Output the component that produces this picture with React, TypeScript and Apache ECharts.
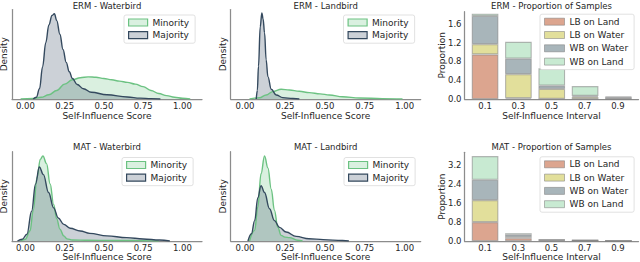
import React, { useEffect, useRef } from "react";
import * as echarts from "echarts";

// ---------- data ----------
const scoreTicks = [0, 0.25, 0.5, 0.75, 1.0];
const intervals = ["0.1", "0.3", "0.5", "0.7", "0.9"];
const intervalPos = [0, 1, 2, 3, 4];
const groups = ["LB on Land", "LB on Water", "WB on Water", "WB on Land"];
const ermPropTicks = [0, 0.4, 0.8, 1.2, 1.6];
const matPropTicks = [0, 0.8, 1.6, 2.4, 3.2];

// density curves (normalised so the tallest peak of a panel is ~1)
const ermWaterMinority: [number, number][] = [
  [-0.03, 0], [0.05, 0.005], [0.1, 0.02], [0.15, 0.05], [0.2, 0.1], [0.25, 0.175],
  [0.3, 0.225], [0.35, 0.25], [0.4, 0.26], [0.45, 0.255], [0.5, 0.24], [0.55, 0.225],
  [0.6, 0.21], [0.65, 0.195], [0.7, 0.175], [0.75, 0.145], [0.8, 0.1], [0.85, 0.065],
  [0.9, 0.04], [0.95, 0.02], [1.0, 0.008], [1.05, 0],
];
const ermWaterMajority: [number, number][] = [
  [0.05, 0], [0.07, 0.02], [0.09, 0.12], [0.11, 0.38], [0.13, 0.66], [0.15, 0.87],
  [0.17, 0.98], [0.185, 1.0], [0.2, 0.92], [0.22, 0.76], [0.24, 0.58], [0.26, 0.43],
  [0.28, 0.32], [0.3, 0.24], [0.33, 0.17], [0.37, 0.12], [0.42, 0.08], [0.52, 0.05],
  [0.65, 0.023], [0.73, 0.01], [0.8, 0.004], [0.86, 0],
];
const ermLandMinority: [number, number][] = [
  [0.028, 0], [0.09, 0.015], [0.132, 0.047], [0.174, 0.086], [0.226, 0.113], [0.278, 0.105],
  [0.34, 0.09], [0.403, 0.074], [0.47, 0.06], [0.528, 0.047], [0.611, 0.027], [0.716, 0.012],
  [0.86, 0.004], [0.986, 0],
];
const ermLandMajority: [number, number][] = [
  [0.07, 0], [0.077, 0.1], [0.084, 0.38], [0.095, 0.84], [0.105, 1.0], [0.113, 0.93],
  [0.122, 0.77], [0.132, 0.455], [0.143, 0.26], [0.164, 0.113], [0.195, 0.047],
  [0.236, 0.016], [0.3, 0.005], [0.34, 0],
];
const matWaterMinority: [number, number][] = [
  [-0.03, 0], [0.0, 0.02], [0.03, 0.12], [0.05, 0.36], [0.075, 0.75], [0.095, 0.96],
  [0.112, 1.0], [0.135, 0.91], [0.158, 0.67], [0.18, 0.43], [0.2, 0.26], [0.22, 0.14],
  [0.245, 0.06], [0.265, 0.025], [0.3, 0.012], [0.4, 0.008], [0.55, 0.006], [0.7, 0.005],
  [0.8, 0.002], [0.85, 0],
];
const matWaterMajority: [number, number][] = [
  [-0.05, 0], [-0.02, 0.02], [0.01, 0.08], [0.04, 0.35], [0.065, 0.67], [0.089, 0.87],
  [0.115, 0.78], [0.148, 0.57], [0.18, 0.39], [0.21, 0.27], [0.245, 0.195], [0.285, 0.15],
  [0.35, 0.118], [0.41, 0.09], [0.52, 0.06], [0.645, 0.04], [0.75, 0.024], [0.855, 0.012],
  [0.92, 0],
];
const matLandMinority: [number, number][] = [
  [0.028, 0], [0.06, 0.125], [0.08, 0.4], [0.1, 0.79], [0.122, 1.0], [0.143, 0.86],
  [0.164, 0.61], [0.184, 0.36], [0.205, 0.16], [0.226, 0.066], [0.25, 0.045], [0.278, 0.04],
  [0.33, 0.008], [0.36, 0],
];
const matLandMajority: [number, number][] = [
  [0.018, 0], [0.04, 0.086], [0.06, 0.24], [0.08, 0.51], [0.1, 0.65], [0.122, 0.57],
  [0.153, 0.38], [0.184, 0.24], [0.216, 0.16], [0.257, 0.105], [0.32, 0.054], [0.4, 0.027],
  [0.49, 0.016], [0.61, 0.005], [0.65, 0],
];

// proportion of samples (stacked)
const ermLBLand = [0.95, 0.02, 0.005, 0.005, 0.002];
const ermLBWater = [0.22, 0.51, 0.21, 0.04, 0.01];
const ermWBWater = [0.6, 0.33, 0.07, 0.02, 0.03];
const ermWBLand = [0.05, 0.36, 0.37, 0.21, 0.01];
const matLBLand = [0.8, 0.12, 0.02, 0.01, 0.003];
const matLBWater = [0.93, 0.05, 0.01, 0.01, 0.002];
const matWBWater = [0.86, 0.1, 0.03, 0.01, 0.003];
const matWBLand = [1.0, 0.06, 0.01, 0.01, 0.002];

// ---------- styles ----------
const FONT = "DejaVu Sans";
const TXT = "#262626";
const SPINE = "#8c8c8c";
const GREEN = "#6cc282";
const GREEN_FILL = "rgba(108,194,130,0.25)";
const DARK = "#34495e";
const DARK_FILL = "rgba(52,73,94,0.25)";
const BAR_COLORS = ["#dca58f", "#e2df9b", "#a8b5ba", "#c8ead2"];
const BAR_EDGE = "rgba(128,128,128,0.55)";

export default function App() {
  const ref = useRef<HTMLDivElement>(null);
  useEffect(() => {
    document.body.style.margin = "0";
    if (!ref.current) return;
    const chart = echarts.init(ref.current, null, { renderer: "svg" });

    const grids = [
      { left: 12, top: 9.5, width: 190, height: 89.5 },
      { left: 230.7, top: 9.5, width: 190, height: 89.5 },
      { left: 464.5, top: 11.7, width: 174, height: 87.3 },
      { left: 12, top: 151.7, width: 190, height: 89.3 },
      { left: 230.7, top: 151.7, width: 190, height: 89.3 },
      { left: 464.5, top: 152.3, width: 174, height: 88.7 },
      // bar-placement grids (hidden category axes) overlaid on the two proportion panels
      { left: 468.4, top: 11.7, width: 166.7, height: 87.3 },
      { left: 468.4, top: 152.3, width: 166.7, height: 88.7 },
    ].map((g) => ({ ...g, outerBoundsMode: "none", containLabel: false }));

    const axisLine = { show: true, onZero: false, lineStyle: { color: SPINE, width: 1.25 } };
    const labelStyle = { fontFamily: FONT, fontSize: 8.5, color: TXT, lineHeight: 9 };
    const nameStyle = { fontFamily: FONT, fontSize: 9, color: TXT, lineHeight: 9 };

    const densityX = (gi: number, min: number, max: number, gap: number) => ({
      type: "value",
      gridIndex: gi,
      min,
      max,
      axisLine,
      axisTick: { show: false },
      splitLine: { show: false },
      axisLabel: {
        ...labelStyle,
        margin: 2.5,
        customValues: scoreTicks,
        formatter: (v: number) => v.toFixed(2),
      },
      name: "Self-Influence Score",
      nameLocation: "middle",
      nameGap: gap,
      nameMoveOverlap: false,
      nameTextStyle: nameStyle,
    });
    const densityY = (gi: number, max: number) => ({
      type: "value",
      gridIndex: gi,
      min: 0,
      max,
      axisLine,
      axisTick: { show: false },
      splitLine: { show: false },
      axisLabel: { show: false },
      name: "Density",
      nameLocation: "middle",
      nameGap: 3.5,
      nameMoveOverlap: false,
      nameTextStyle: nameStyle,
    });
    const barX = (gi: number, gap: number) => ({
      type: "value",
      gridIndex: gi,
      min: -0.62,
      max: 4.62,
      axisLine,
      axisTick: { show: false },
      splitLine: { show: false },
      axisLabel: {
        ...labelStyle,
        margin: 2.5,
        customValues: intervalPos,
        formatter: (v: number) => intervals[Math.round(v)] ?? "",
      },
      name: "Self-Influence Interval",
      nameLocation: "middle",
      nameGap: gap,
      nameMoveOverlap: false,
      nameTextStyle: nameStyle,
    });
    const barY = (gi: number, max: number, ticks: number[]) => ({
      type: "value",
      gridIndex: gi,
      min: 0,
      max,
      axisLine,
      axisTick: { show: false },
      splitLine: { show: false },
      axisLabel: {
        ...labelStyle,
        margin: 3,
        customValues: ticks,
        formatter: (v: number) => v.toFixed(1),
      },
      name: "Proportion",
      nameLocation: "middle",
      nameGap: 18,
      nameMoveOverlap: false,
      nameTextStyle: nameStyle,
    });
    const hiddenCatX = (gi: number) => ({
      type: "category",
      gridIndex: gi,
      data: intervals,
      boundaryGap: true,
      show: false,
      axisLine: { show: false, onZero: false },
    });
    const hiddenY = (gi: number, max: number) => ({
      type: "value",
      gridIndex: gi,
      min: 0,
      max,
      show: false,
      axisLine: { show: false, onZero: false },
    });

    const densitySeries = (name: string, gi: number, data: [number, number][], line: string, fill: string) => ({
      type: "line",
      name,
      xAxisIndex: gi,
      yAxisIndex: gi,
      data,
      smooth: 0.4,
      smoothMonotone: "x",
      showSymbol: false,
      symbol: "none",
      lineStyle: { color: line, width: 1.4 },
      itemStyle: { color: line },
      areaStyle: { color: fill, opacity: 1 },
      silent: true,
    });
    const barSeries = (name: string, gi: number, stack: string, vals: number[], color: string) => ({
      type: "bar",
      name,
      stack,
      xAxisIndex: gi,
      yAxisIndex: gi,
      data: vals,
      barWidth: "80%",
      itemStyle: { color, borderColor: BAR_EDGE, borderWidth: 1.1 },
      label: { show: false },
      silent: true,
    });

    const legendBase = {
      orient: "vertical",
      itemWidth: 19,
      itemHeight: 7,
      selectedMode: false,
      backgroundColor: "#ffffff",
      borderColor: "#d9d9d9",
      borderWidth: 0.8,
      borderRadius: 2,
      textStyle: { fontFamily: FONT, fontSize: 9, color: TXT, lineHeight: 10 },
    };
    const densityLegend = (left: number, top: number) => ({
      ...legendBase,
      left,
      top,
      itemGap: 2.7,
      padding: [2.5, 6, 3, 4],
      data: [
        { name: "Minority", icon: "rect", itemStyle: { color: GREEN_FILL, borderColor: GREEN, borderWidth: 1.2 } },
        { name: "Majority", icon: "rect", itemStyle: { color: DARK_FILL, borderColor: DARK, borderWidth: 1.2 } },
      ],
    });
    const barLegend = (left: number, top: number) => ({
      ...legendBase,
      left,
      top,
      itemGap: 3.3,
      itemWidth: 20,
      padding: [2.5, 6, 3, 4],
      data: groups.map((g, i) => ({
        name: g,
        icon: "rect",
        itemStyle: { color: BAR_COLORS[i], borderColor: BAR_EDGE, borderWidth: 1 },
      })),
    });

    const titleAt = (text: string, x: number, y: number) => ({
      text,
      left: x,
      top: y,
      padding: 0,
      textAlign: "center",
      textStyle: { fontFamily: FONT, fontSize: 8.5, fontWeight: "normal", color: TXT },
    });

    const option: any = {
      animation: false,
      backgroundColor: "#ffffff",
      title: [
        titleAt("ERM - Waterbird", 107, 1),
        titleAt("ERM - Landbird", 325.7, 1),
        titleAt("ERM - Proportion of Samples", 551.5, 1),
        titleAt("MAT - Waterbird", 107, 142.5),
        titleAt("MAT - Landbird", 325.7, 142.5),
        titleAt("MAT - Proportion of Samples", 551.5, 142.5),
      ],
      grid: grids,
      xAxis: [
        densityX(0, -0.085, 1.125, 12),
        densityX(1, -0.09, 1.1, 12),
        barX(2, 12),
        densityX(3, -0.085, 1.125, 11.5),
        densityX(4, -0.09, 1.1, 11.5),
        barX(5, 11.5),
        hiddenCatX(6),
        hiddenCatX(7),
      ],
      yAxis: [
        densityY(0, 1.05),
        densityY(1, 1.04),
        barY(2, 1.862, ermPropTicks),
        densityY(3, 1.05),
        densityY(4, 1.05),
        barY(5, 3.75, matPropTicks),
        hiddenY(6, 1.862),
        hiddenY(7, 3.75),
      ],
      legend: [
        densityLegend(124, 15),
        densityLegend(343.5, 15),
        barLegend(540, 14.2),
        densityLegend(122, 157.5),
        densityLegend(344, 157.5),
        barLegend(540, 156.8),
      ],
      series: [
        densitySeries("Minority", 0, ermWaterMinority, GREEN, GREEN_FILL),
        densitySeries("Majority", 0, ermWaterMajority, DARK, DARK_FILL),
        densitySeries("Minority", 1, ermLandMinority, GREEN, GREEN_FILL),
        densitySeries("Majority", 1, ermLandMajority, DARK, DARK_FILL),
        densitySeries("Minority", 3, matWaterMinority, GREEN, GREEN_FILL),
        densitySeries("Majority", 3, matWaterMajority, DARK, DARK_FILL),
        densitySeries("Minority", 4, matLandMinority, GREEN, GREEN_FILL),
        densitySeries("Majority", 4, matLandMajority, DARK, DARK_FILL),
        barSeries(groups[0], 6, "erm", ermLBLand, BAR_COLORS[0]),
        barSeries(groups[1], 6, "erm", ermLBWater, BAR_COLORS[1]),
        barSeries(groups[2], 6, "erm", ermWBWater, BAR_COLORS[2]),
        barSeries(groups[3], 6, "erm", ermWBLand, BAR_COLORS[3]),
        barSeries(groups[0], 7, "mat", matLBLand, BAR_COLORS[0]),
        barSeries(groups[1], 7, "mat", matLBWater, BAR_COLORS[1]),
        barSeries(groups[2], 7, "mat", matWBWater, BAR_COLORS[2]),
        barSeries(groups[3], 7, "mat", matWBLand, BAR_COLORS[3]),
      ],
    };
    chart.setOption(option);
    return () => chart.dispose();
  }, []);
  return <div ref={ref} style={{ width: 640, height: 262, position: "absolute", left: 0, top: 0 }} />;
}
